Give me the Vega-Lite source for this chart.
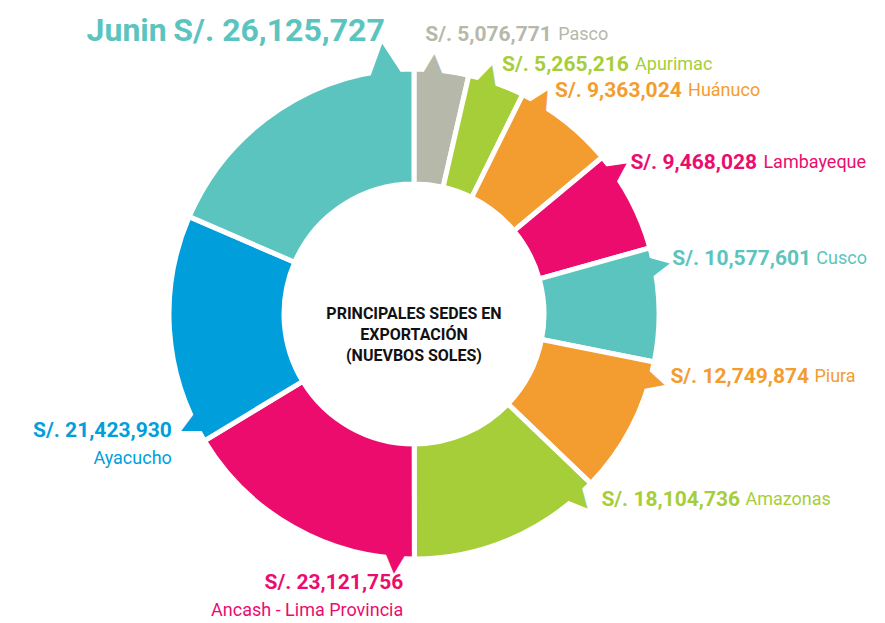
{
  "$schema": "https://vega.github.io/schema/vega-lite/v6.json",
  "autosize": {"type": "none"},
  "padding": {"left": 0, "top": 5, "right": 57, "bottom": 0},
  "width": 828,
  "height": 618,
  "background": "white",
  "config": {
    "view": {"stroke": null},
    "text": {"font": "Roboto"},
    "locale": {"number": {"decimal": ".", "thousands": ",", "grouping": [3], "currency": ["S/. ", ""]}}
  },
  "data": {
    "values": [
      {"name": "Pasco", "value": 5076771},
      {"name": "Apurimac", "value": 5265216},
      {"name": "Huánuco", "value": 9363024},
      {"name": "Lambayeque", "value": 9468028},
      {"name": "Cusco", "value": 10577601},
      {"name": "Piura", "value": 12749874},
      {"name": "Amazonas", "value": 18104736},
      {"name": "Ancash - Lima Provincia", "value": 23121756},
      {"name": "Ayacucho", "value": 21423930},
      {"name": "Junin", "value": 26125727}
    ]
  },
  "transform": [
    {"window": [{"op": "row_number", "as": "idx"}]},
    {"stack": "value", "groupby": [], "sort": [{"field": "idx", "order": "ascending"}], "offset": "normalize", "as": ["v0", "v1"]}
  ],
  "encoding": {
    "color": {
      "field": "name",
      "type": "nominal",
      "legend": null,
      "scale": {
        "domain": ["Pasco", "Apurimac", "Huánuco", "Lambayeque", "Cusco", "Piura", "Amazonas", "Ancash - Lima Provincia", "Ayacucho", "Junin"],
        "range": ["#B6B8AA", "#A6CE39", "#F39D31", "#EC0C6E", "#5CC4BE", "#F39D31", "#A6CE39", "#EC0C6E", "#009FDB", "#5CC4BE"]
      }
    }
  },
  "layer": [
    {
      "mark": {"type": "arc", "outerRadius": 245, "innerRadius": 130, "stroke": "white", "strokeWidth": 5},
      "encoding": {
        "theta": {"field": "v0", "type": "quantitative", "stack": null, "scale": {"domain": [0, 1]}},
        "theta2": {"field": "v1"}
      }
    },
    {
      "transform": [{"filter": "datum.name !== 'Junin'"}],
      "mark": {"type": "text", "text": "▲", "font": "DejaVu Sans", "fontSize": 32, "radius": 250, "align": "center", "baseline": "middle"},
      "encoding": {
        "theta": {"field": "v0", "type": "quantitative", "stack": null, "scale": {"domain": [0, 1], "range": [0.0785398, 6.3617251]}},
        "angle": {"field": "v0", "type": "quantitative", "scale": {"domain": [0, 1], "range": [4.5, 364.5]}}
      }
    },
    {
      "transform": [{"filter": "datum.name === 'Junin'"}],
      "mark": {"type": "text", "text": "▲", "font": "DejaVu Sans", "fontSize": 56, "radius": 253, "align": "center", "baseline": "middle", "angle": 353.3},
      "encoding": {
        "theta": {"field": "v1", "type": "quantitative", "stack": null, "scale": {"domain": [0, 1], "range": [-0.1169371, 6.1662482]}}
      }
    },
    {
      "transform": [{"filter": "datum.idx === 1"}],
      "mark": {"type": "text", "fontWeight": "bold", "fontSize": 21, "radius": 279, "align": "left", "baseline": "middle"},
      "encoding": {
        "theta": {"field": "v0", "type": "quantitative", "stack": null, "scale": {"domain": [0, 1], "range": [0.0401426, 6.3233279]}},
        "text": {"field": "value", "type": "quantitative", "format": "$,d"}
      }
    },
    {
      "transform": [{"filter": "datum.idx === 1"}],
      "mark": {"type": "text", "fontSize": 18, "radius": 279, "align": "left", "baseline": "middle", "dx": 133},
      "encoding": {
        "theta": {"field": "v0", "type": "quantitative", "stack": null, "scale": {"domain": [0, 1], "range": [0.0401426, 6.3233279]}},
        "text": {"field": "name", "type": "nominal"}
      }
    },
    {
      "transform": [{"filter": "datum.idx >= 2 && datum.idx <= 7"}],
      "mark": {"type": "text", "fontWeight": "bold", "fontSize": 21, "radius": 264, "align": "left", "baseline": "middle"},
      "encoding": {
        "theta": {"field": "v0", "type": "quantitative", "stack": null, "scale": {"domain": [0, 1], "range": [0.1247910, 6.1190900]}},
        "text": {"field": "value", "type": "quantitative", "format": "$,d"}
      }
    },
    {
      "transform": [{"filter": "datum.idx >= 2 && datum.idx <= 7 && datum.value < 10000000"}],
      "mark": {"type": "text", "fontSize": 18, "radius": 264, "align": "left", "baseline": "middle", "dx": 133},
      "encoding": {
        "theta": {"field": "v0", "type": "quantitative", "stack": null, "scale": {"domain": [0, 1], "range": [0.1247910, 6.1190900]}},
        "text": {"field": "name", "type": "nominal"}
      }
    },
    {
      "transform": [{"filter": "datum.idx >= 2 && datum.idx <= 7 && datum.value >= 10000000"}],
      "mark": {"type": "text", "fontSize": 18, "radius": 264, "align": "left", "baseline": "middle", "dx": 144},
      "encoding": {
        "theta": {"field": "v0", "type": "quantitative", "stack": null, "scale": {"domain": [0, 1], "range": [0.1247910, 6.1190900]}},
        "text": {"field": "name", "type": "nominal"}
      }
    },
    {
      "transform": [{"filter": "datum.idx === 8 || datum.idx === 9"}],
      "mark": {"type": "text", "fontWeight": "bold", "fontSize": 21, "radius": 269, "align": "right", "baseline": "middle"},
      "encoding": {
        "theta": {"field": "v0", "type": "quantitative", "stack": null, "scale": {"domain": [0, 1], "range": [-0.117286, 6.483606]}},
        "text": {"field": "value", "type": "quantitative", "format": "$,d"}
      }
    },
    {
      "transform": [{"filter": "datum.idx === 8 || datum.idx === 9"}],
      "mark": {"type": "text", "fontSize": 18, "radius": 269, "align": "right", "baseline": "middle", "dy": 28},
      "encoding": {
        "theta": {"field": "v0", "type": "quantitative", "stack": null, "scale": {"domain": [0, 1], "range": [-0.117286, 6.483606]}},
        "text": {"field": "name", "type": "nominal"}
      }
    },
    {
      "transform": [{"filter": "datum.name === 'Junin'"}],
      "mark": {"type": "text", "fontWeight": "bold", "fontSize": 32, "radius": 284.5, "align": "right", "baseline": "middle"},
      "encoding": {
        "theta": {"field": "v1", "type": "quantitative", "stack": null, "scale": {"domain": [0, 1], "range": [-0.1029744, 6.1802109]}},
        "text": {"field": "value", "type": "quantitative", "format": "$,d"}
      }
    },
    {
      "transform": [{"filter": "datum.name === 'Junin'"}],
      "mark": {"type": "text", "fontWeight": "bold", "fontSize": 32, "radius": 284.5, "align": "right", "baseline": "middle", "dx": -218},
      "encoding": {
        "theta": {"field": "v1", "type": "quantitative", "stack": null, "scale": {"domain": [0, 1], "range": [-0.1029744, 6.1802109]}},
        "text": {"field": "name", "type": "nominal"}
      }
    },
    {
      "transform": [{"aggregate": [{"op": "count", "as": "n"}]}],
      "mark": {"type": "text", "text": ["PRINCIPALES SEDES EN", "EXPORTACIÓN", "(NUEVBOS SOLES)"], "fontWeight": "bold", "fontSize": 16, "lineHeight": 21, "align": "center", "baseline": "middle"},
      "encoding": {"color": {"value": "#111111"}}
    }
  ],
  "resolve": {"scale": {"theta": "independent", "angle": "independent"}}
}
